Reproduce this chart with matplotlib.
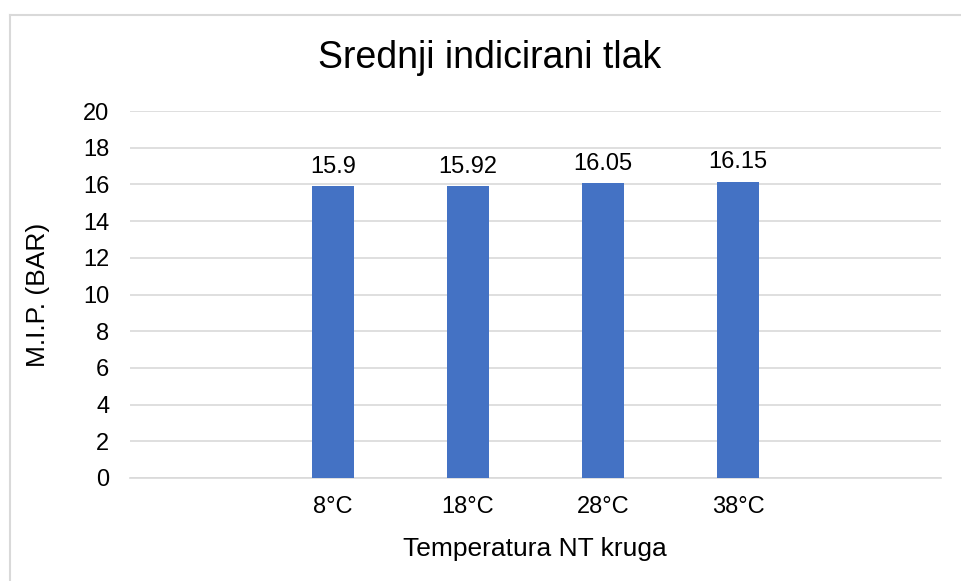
import matplotlib.pyplot as plt
from matplotlib.lines import Line2D

categories = ["", "8°C", "18°C", "28°C", "38°C", ""]
values = [None, 15.9, 15.92, 16.05, 16.15, None]
bar_labels = ["15.9", "15.92", "16.05", "16.15"]
yticks = [0, 2, 4, 6, 8, 10, 12, 14, 16, 18, 20]

plt.rcParams['font.family'] = ['Liberation Sans', 'DejaVu Sans']

fig = plt.figure(figsize=(9.62, 5.81), dpi=100)
ax = fig.add_axes([130 / 962, 1 - 478 / 581, (941 - 130) / 962, (478 - 111) / 581])

# chart border (only left/top visible in the crop)
fig.add_artist(Line2D([10 / 962, 10 / 962], [0, 1 - 15 / 581], transform=fig.transFigure,
                      color='#D9D9D9', lw=1.5))
fig.add_artist(Line2D([10 / 962, 1], [1 - 15 / 581, 1 - 15 / 581], transform=fig.transFigure,
                      color='#D9D9D9', lw=1.5))

xs = [i for i, v in enumerate(values) if v is not None]
ys = [v for v in values if v is not None]
bars = ax.bar(xs, ys, width=0.31, color='#4472C4', zorder=3)
for b, lab in zip(bars, bar_labels):
    ax.annotate(lab, (b.get_x() + b.get_width() / 2, b.get_height()),
                xytext=(0, 6), textcoords='offset points', ha='center', va='bottom',
                fontsize=17, color='#000000')

ax.set_xlim(-0.5, len(categories) - 0.5)
ax.set_ylim(0, 20)
ax.set_yticks(yticks)
ax.set_xticks(range(len(categories)))
ax.set_xticklabels(categories)
ax.tick_params(axis='both', length=0, labelsize=17, colors='#000000')
ax.tick_params(axis='x', pad=13)
ax.tick_params(axis='y', pad=15)
ax.grid(axis='y', color='#D9D9D9', lw=1.2, zorder=0)
for s in ['top', 'right', 'left']:
    ax.spines[s].set_visible(False)
ax.spines['bottom'].set_color('#D9D9D9')
ax.spines['bottom'].set_linewidth(1.2)

fig.text(535 / 962, 1 - 549 / 581, "Temperatura NT kruga", ha='center', va='center', fontsize=19)
fig.text(38 / 962, 1 - 295 / 581, "M.I.P. (BAR)", ha='center', va='center', rotation=90, fontsize=19)
fig.text(490 / 962, 1 - 58 / 581, "Srednji indicirani tlak", ha='center', va='center', fontsize=27)

fig.savefig("out.png", dpi=100)
